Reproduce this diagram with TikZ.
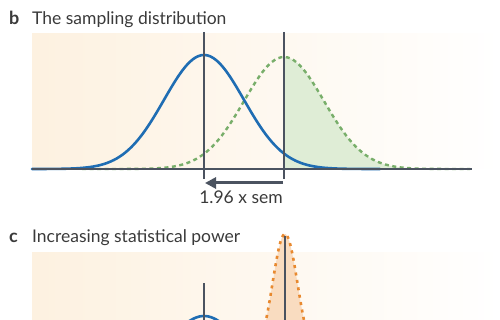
\documentclass[tikz,border=0pt]{standalone}
\usepackage{fontspec}
\setmainfont{Lato}
\usetikzlibrary{arrows.meta,positioning}
\definecolor{txtgray}{HTML}{3A3A3A}
\definecolor{axisgray}{HTML}{4B5360}
\definecolor{peach}{HTML}{FDF1E0}
\definecolor{curveblue}{HTML}{1F6DB3}
\definecolor{curvegreen}{HTML}{78AE6A}
\definecolor{greenfill}{HTML}{DFEDD6}
\definecolor{curveorange}{HTML}{E8892F}
\definecolor{orangefill}{HTML}{F9DCC0}
\tikzset{
  paneltitle/.style={anchor=base west, inner sep=0pt, text=txtgray},
  panelletter/.style={anchor=base west, inner sep=0pt, text=txtgray, font=\fontsize{18}{20}\selectfont\bfseries},
  meanline/.style={axisgray, line width=2.4pt, line cap=butt},
  bluecurve/.style={curveblue, line width=2.6pt},
  greencurve/.style={curvegreen, line width=2.4pt, line cap=butt, dash pattern=on 4pt off 3.5pt},
  orangecurve/.style={curveorange, line width=2.6pt, line cap=butt, dash pattern=on 3pt off 4.5pt},
  semarrow/.style={axisgray, line width=3pt, line cap=butt, -{Triangle[length=11pt, width=11pt]}}
}
\begin{document}
\begin{tikzpicture}[x=1pt, y=-1pt, font=\fontsize{17.5}{20}\selectfont, line join=round, line cap=round,
  declare function={gauss(\x,\m,\s,\h)=\h*exp(-0.5*((\x-\m)/\s)^2);}]
  \useasboundingbox (0,0) rectangle (500,320);
  \clip (0,0) rectangle (500,320);

  % 1. Nen hai khung
  \shade[left color=peach, right color=white] (32,34) rectangle (500,169);
  \shade[left color=peach, right color=white] (32,252) rectangle (500,320);

  % 2. Khung b: phan bo mau
  \coordinate (axL) at (32,169);  \coordinate (axR) at (472,169);
  \coordinate (nullTop) at (204,32); \coordinate (nullBot) at (204,179);
  \coordinate (altTop) at (284,32);  \coordinate (altBot) at (284,179);

  \fill[greenfill] (284,169) -- plot[domain=284:470, samples=60] (\x,{169-gauss(\x,284,40,112)}) -- (470,169) -- cycle;
  \draw[greencurve] plot[domain=82:470, samples=120, smooth] (\x,{169-gauss(\x,284,40,112)});
  \draw[bluecurve] plot[domain=32:380, samples=120, smooth] (\x,{169-gauss(\x,204,40,114)});
  \draw[axisgray, line width=2.4pt, line cap=butt] (axL) -- (axR);
  \draw[meanline] (nullTop) -- (nullBot) (altTop) -- (altBot);

  % 3. Mui ten 1.96 x sem
  \coordinate (arrR) at (283,183); \coordinate (arrL) at (205,183);
  \draw[semarrow] (arrR) -- (arrL);
  \node[anchor=base, inner sep=0pt, text=txtgray] (semlbl) at (241,204) {1.96 x sem};

  % 4. Khung c: tang luc thong ke
  \fill[orangefill] plot[domain=235:335, samples=80, smooth] (\x,{361-gauss(\x,285,12.6,127)}) -- cycle;
  \draw[orangecurve] plot[domain=235:335, samples=80, smooth] (\x,{361-gauss(\x,285,12.6,127)});
  \draw[bluecurve] plot[domain=110:300, samples=80, smooth] (\x,{361-gauss(\x,204,30,45)});
  \coordinate (nullTopC) at (204,283); \coordinate (nullBotC) at (204,322);
  \coordinate (altTopC) at (285,236);  \coordinate (altBotC) at (285,322);
  \draw[meanline] (nullTopC) -- (nullBotC) (altTopC) -- (altBotC);

  % 5. Tieu de
  \node[panelletter] (labB) at (9,25) {b};
  \node[paneltitle] (titleB) at (32,25) {The sampling distribution};
  \node[panelletter] (labC) at (9,242) {c};
  \node[paneltitle] (titleC) at (32,242) {Increasing statistical power};
\end{tikzpicture}
\end{document}
